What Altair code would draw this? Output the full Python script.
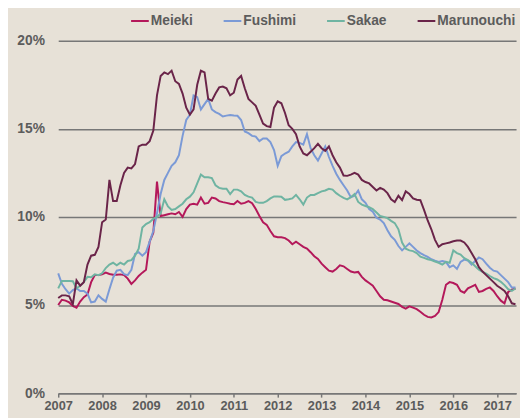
import altair as alt
import pandas as pd

series_names = ["Meieki", "Fushimi", "Sakae", "Marunouchi"]
series_colors = ["#b4185a", "#7b9ad6", "#6fb4a2", "#6a2449"]

# monthly vacancy rates (%), Jan 2007 .. Jun 2017
meieki = [5.0, 5.3, 5.25, 5.15, 4.95, 4.85, 5.2, 5.45, 5.6, 6.3, 6.7, 6.7,
          6.74, 6.84, 6.76, 6.72, 6.72, 6.74, 6.7, 6.5, 6.2, 6.4, 6.65, 6.84,
          7.0, 8.6, 9.1, 12.0, 10.05, 10.1, 10.15, 10.2, 10.15, 10.28, 10.0, 10.45,
          10.7, 10.75, 10.7, 11.1, 10.75, 10.8, 11.1, 11.05, 10.9, 10.84, 10.8, 10.75,
          10.72, 10.9, 10.75, 10.8, 10.9, 10.78, 10.45, 10.05, 9.7, 9.55, 9.2, 8.9,
          8.85, 8.85, 8.8, 8.66, 8.45, 8.6, 8.45, 8.3, 8.2, 8.0, 7.77, 7.62,
          7.35, 7.15, 6.95, 6.9, 7.05, 7.25, 7.2, 7.05, 6.9, 6.85, 6.88, 6.6,
          6.4, 6.25, 6.1, 5.8, 5.5, 5.3, 5.27, 5.2, 5.13, 5.06, 4.9, 4.8,
          4.93, 4.85, 4.77, 4.62, 4.45, 4.33, 4.3, 4.38, 4.6, 5.3, 6.15, 6.3,
          6.25, 6.15, 5.8, 5.7, 5.95, 6.05, 6.15, 5.75, 5.8, 5.92, 6.0, 5.8,
          5.5, 5.25, 5.1, 5.75, 5.88, 5.94]
fushimi = [6.8, 6.2, 5.9, 5.65, 5.85, 5.95, 5.8, 5.8, 5.65, 5.15, 5.2, 5.55,
           5.35, 5.2, 5.9, 6.55, 6.95, 7.0, 6.75, 6.7, 7.0, 7.9, 8.0, 7.8,
           8.0, 8.6, 9.2, 10.2, 11.3, 12.1, 12.5, 12.9, 13.1, 13.5, 14.6, 15.5,
           15.8, 16.9, 16.8, 16.1, 16.4, 16.7, 16.1, 15.95, 15.85, 15.7, 15.75, 15.78,
           15.75, 15.74, 15.5, 14.85, 14.75, 14.6, 14.56, 14.3, 14.45, 14.45, 14.25, 13.8,
           12.9, 13.45, 13.6, 13.7, 14.0, 14.25, 14.2, 14.1, 14.7, 13.9, 13.5, 13.2,
           13.6, 14.0, 13.4, 12.9, 12.45, 12.1, 11.8, 11.5, 11.12, 11.2, 11.5, 11.0,
           10.8, 10.45, 10.3, 9.95, 9.85, 9.65, 9.25, 8.9, 8.7, 8.35, 8.1, 8.3,
           8.5, 8.3, 8.1, 7.95, 7.83, 7.73, 7.6, 7.52, 7.45, 7.5, 7.45, 7.15,
           7.25, 7.05, 7.45, 7.58, 7.52, 7.3, 7.5, 7.7, 7.6, 7.35, 7.12, 6.95,
           6.9, 6.7, 6.5, 6.3, 6.0, 6.0]
sakae = [5.95, 6.37, 6.37, 6.37, 6.35, 5.95, 6.1, 6.3, 6.6, 6.58, 6.74, 6.7,
         6.8, 7.1, 7.3, 7.4, 7.25, 7.4, 7.3, 7.5, 7.55, 7.8, 8.2, 9.4,
         9.6, 9.7, 9.9, 10.0, 10.2, 11.0, 10.6, 10.4, 10.45, 10.6, 10.75, 11.0,
         11.15, 11.4, 11.9, 12.4, 12.25, 12.25, 12.2, 11.8, 11.65, 11.6, 11.6, 11.3,
         11.55, 11.55, 11.45, 11.25, 11.15, 11.1, 10.85, 10.8, 10.8, 10.9, 11.05, 11.16,
         11.16, 11.15, 10.97, 11.0, 11.05, 11.25, 11.0, 10.7, 11.1, 11.25, 11.25, 11.35,
         11.45, 11.5, 11.6, 11.55, 11.35, 11.2, 11.08, 11.0, 11.12, 11.3, 10.85, 10.7,
         10.62, 10.55, 10.45, 10.25, 10.05, 10.0, 9.93, 9.78, 9.65, 9.3, 8.55, 8.2,
         8.1, 8.06, 7.95, 7.75, 7.68, 7.6, 7.55, 7.47, 7.4, 7.3, 7.45, 7.4,
         8.1, 7.95, 7.86, 7.66, 7.55, 7.4, 7.2, 7.0, 6.88, 6.78, 6.65, 6.53,
         6.45, 6.32, 6.13, 5.9, 5.8, 5.94]
marunouchi = [5.4, 5.55, 5.55, 5.5, 5.05, 6.4, 6.1, 6.3, 7.3, 7.8, 7.85, 8.3,
              9.7, 9.85, 12.1, 10.9, 10.9, 11.8, 12.5, 12.8, 12.75, 13.0, 14.0, 14.1,
              14.1, 14.3, 14.9, 16.9, 18.0, 18.2, 18.1, 18.3, 17.7, 17.55, 17.0, 16.2,
              15.8, 16.1, 17.5, 18.3, 18.2, 16.7, 16.6, 17.0, 17.35, 17.4, 17.3, 16.9,
              17.05, 17.8, 18.0, 17.3, 16.7, 16.5, 16.3, 15.8, 15.3, 15.15, 15.1, 16.2,
              16.56, 16.45, 15.9, 15.2, 15.0, 14.7, 14.0, 13.6, 13.5, 13.7, 13.9, 14.15,
              13.9, 13.75, 14.0, 13.5, 13.1, 12.8, 12.35, 12.33, 12.4, 12.5, 12.4, 12.1,
              11.98, 11.9, 11.7, 11.5, 11.65, 11.55, 11.35, 11.0, 10.85, 11.2, 10.95, 11.45,
              11.3, 11.05, 10.98, 10.95, 10.4, 9.8, 9.3, 8.7, 8.3, 8.45, 8.5, 8.55,
              8.62, 8.66, 8.66, 8.55, 8.3, 7.95, 7.6, 7.15, 6.9, 6.7, 6.5, 6.3,
              6.1, 5.95, 5.8, 5.5, 5.1, 5.05]

year_ticks = list(range(2007, 2018))
pct_ticks = [0, 5, 10, 15, 20]

rows = []
for name, vals in zip(series_names, [meieki, fushimi, sakae, marunouchi]):
    for i, v in enumerate(vals):
        rows.append({"t": 2007 + i / 12, "series": name, "value": v})
df = pd.DataFrame(rows)

font = "Liberation Sans"
gray = "#5c5c5c"

chart = alt.Chart(df).mark_line(strokeWidth=2).encode(
    x=alt.X("t:Q", scale=alt.Scale(domain=[2007, 2017.43], nice=False, zero=False),
            axis=alt.Axis(values=year_ticks, format="d", title=None, grid=False,
                          labelFlush=False, labelOverlap=False,
                          domainColor="#777777", domainWidth=1.5, tickColor="#777777",
                          tickWidth=1.5, tickSize=4, labelPadding=3, labelFontSize=13,
                          labelFontWeight="bold", labelColor=gray, labelFont=font)),
    y=alt.Y("value:Q", scale=alt.Scale(domain=[0, 20], nice=False),
            axis=alt.Axis(values=pct_ticks, labelExpr="datum.value + '%'", title=None,
                          domain=False, ticks=False, grid=True, gridColor="#777777",
                          gridWidth=1.5, labelPadding=14, labelFontSize=14,
                          labelFontWeight="bold", labelColor=gray, labelFont=font)),
    color=alt.Color("series:N", scale=alt.Scale(domain=series_names, range=series_colors),
                    sort=series_names,
                    legend=alt.Legend(title=None, orient="none", direction="horizontal",
                                      legendX=73, legendY=-30, symbolType="stroke",
                                      symbolSize=324, symbolStrokeWidth=2, labelOffset=1,
                                      columnPadding=27, labelFontSize=14,
                                      labelFontWeight="bold", labelColor=gray,
                                      labelFont=font)),
).properties(
    width=465, height=358,
    background="#e7e1d7",
    padding={"left": 51, "top": 30, "right": 4, "bottom": 22},
    autosize=alt.AutoSizeParams(type="none"),
).configure_view(stroke=None)

chart.save("out.html", embed_options={"renderer": "svg", "actions": False})
